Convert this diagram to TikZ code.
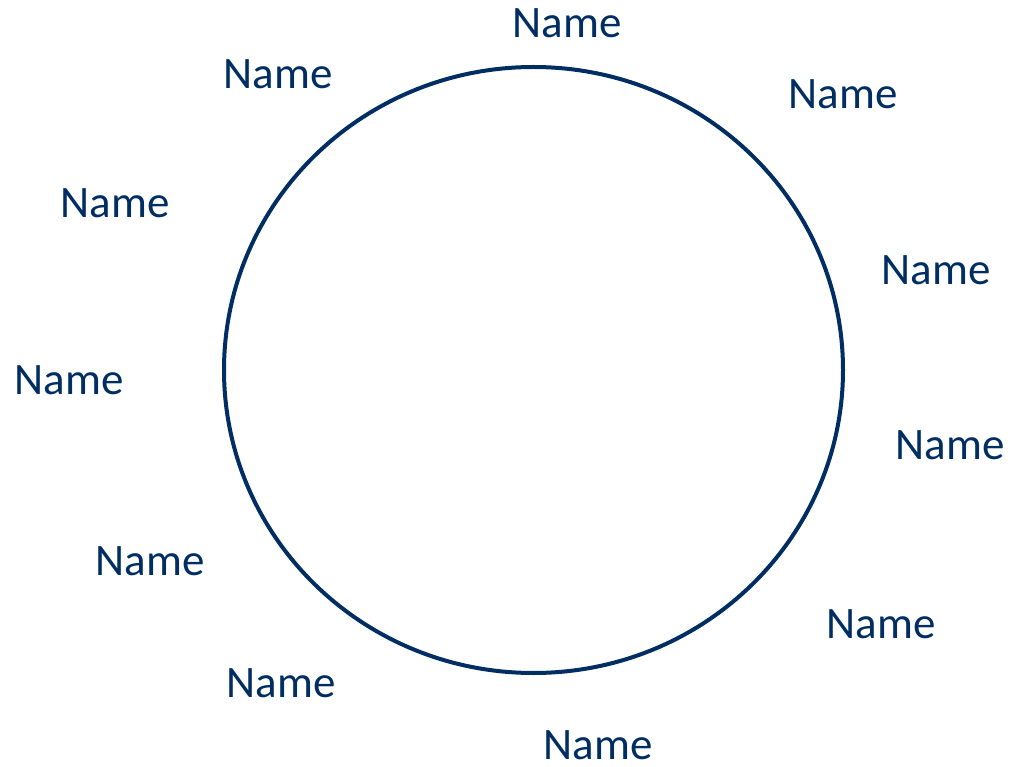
\documentclass[tikz,border=0pt]{standalone}
\usepackage{fontspec}
\setmainfont{Carlito}
\definecolor{navy}{RGB}{0,45,98}
\begin{document}
\begin{tikzpicture}[x=1pt,y=-1pt,
  lbl/.style={anchor=base,inner sep=0pt,text=navy,font=\fontsize{45}{52}\selectfont}]
\useasboundingbox (0,0) rectangle (1013,767);
\draw[navy,line width=4pt] (533.5,370) ellipse [x radius=309.5,y radius=303];
\node[lbl] (n1) at (567,38) {Name};
\node[lbl] (n2) at (278,89) {Name};
\node[lbl] (n3) at (843,109) {Name};
\node[lbl] (n4) at (115,218) {Name};
\node[lbl] (n5) at (936,285) {Name};
\node[lbl] (n6) at (69,395) {Name};
\node[lbl] (n7) at (950,460) {Name};
\node[lbl] (n8) at (150,575) {Name};
\node[lbl] (n9) at (881,638) {Name};
\node[lbl] (n10) at (281,697) {Name};
\node[lbl] (n11) at (598,759) {Name};
\end{tikzpicture}
\end{document}
